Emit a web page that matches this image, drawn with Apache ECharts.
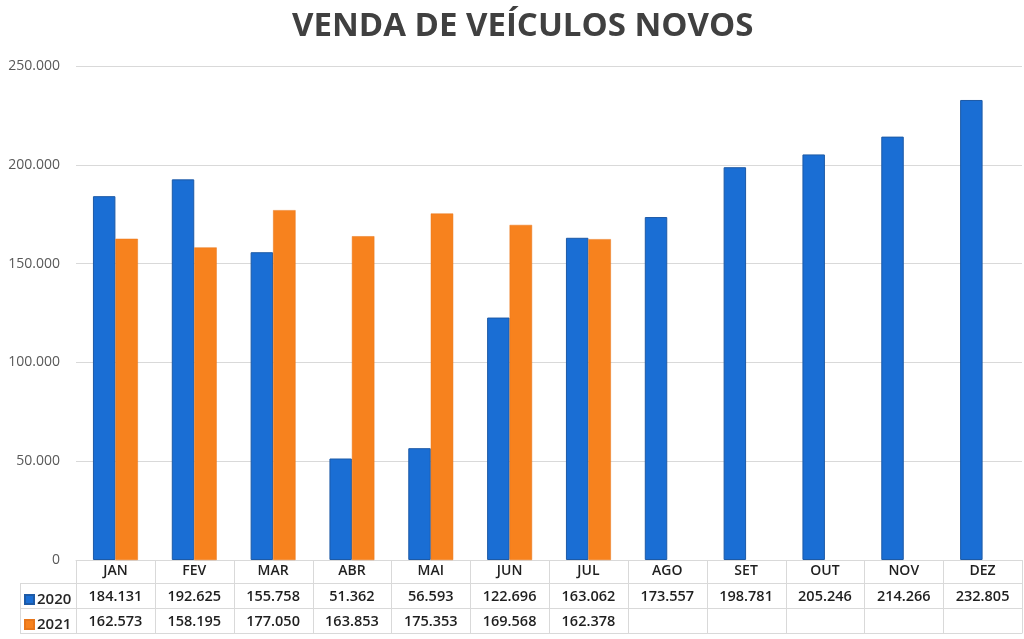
<!DOCTYPE html>
<html>
<head>
<meta charset="utf-8">
<script src="https://cdn.jsdelivr.net/npm/echarts@6/dist/echarts.min.js"></script>
<style>html,body{margin:0;padding:0;background:#fff}#c{width:1024px;height:639px}</style>
</head>
<body>
<div id="c"></div>
<script>
var months = ['JAN','FEV','MAR','ABR','MAI','JUN','JUL','AGO','SET','OUT','NOV','DEZ'];
var s2020 = [184131,192625,155758,51362,56593,122696,163062,173557,198781,205246,214266,232805];
var s2021 = [162573,158195,177050,163853,175353,169568,162378,null,null,null,null,null];
var yTicks = [0,50000,100000,150000,200000,250000];

function fmt(n){
  if(n===null||n===undefined) return ' ';
  return String(n).replace(/\B(?=(\d{3})+(?!\d))/g,'.');
}
var FONT = '"Open Sans", sans-serif';
var chart = echarts.init(document.getElementById('c'));
var gl = 76, gr = 2, gt = 66, gb = 79;
var W = 1024, H = 639;
var lineC = '#d9d9d9';
var legText = {fontFamily:FONT,fontSize:15,fontWeight:600,color:'#262626',padding:[0,0,0,-2]};
var graphics = [
  {type:'line',shape:{x1:20,y1:583.5,x2:W-gr,y2:583.5},style:{stroke:lineC,lineWidth:1}},
  {type:'line',shape:{x1:20,y1:608.5,x2:W-gr,y2:608.5},style:{stroke:lineC,lineWidth:1}},
  {type:'line',shape:{x1:20,y1:633.5,x2:W-gr,y2:633.5},style:{stroke:lineC,lineWidth:1}},
  {type:'line',shape:{x1:20.5,y1:583.5,x2:20.5,y2:633.5},style:{stroke:lineC,lineWidth:1}}
];
var cw = (W - gl - gr) / months.length;
for (var i = 0; i <= months.length; i++) {
  var x = Math.round(gl + i * cw) + 0.5;
  graphics.push({type:'line',shape:{x1:x,y1:H-gb,x2:x,y2:633.5},style:{stroke:lineC,lineWidth:1}});
}
chart.setOption({
  animation:false,
  title:{text:'VENDA DE VEÍCULOS NOVOS',left:287,top:5,
    textStyle:{fontFamily:FONT,fontSize:33,fontWeight:'bold',color:'#404040'}},
  legend:[
    {data:['2020'],left:19,top:587,itemWidth:9,itemHeight:9,icon:'rect',textStyle:legText},
    {data:['2021'],left:19,top:612,itemWidth:9,itemHeight:9,icon:'rect',textStyle:legText}
  ],
  grid:{left:gl,right:gr,top:gt,bottom:gb,containLabel:false},
  xAxis:{type:'category',data:months,
    axisLine:{lineStyle:{color:lineC}},
    axisTick:{show:false},
    axisLabel:{margin:-1,interval:0,
      formatter:function(v,i){
        return '{m|'+v+'}\n{v|'+fmt(s2020[i])+'}\n{v|'+fmt(s2021[i])+'}';
      },
      rich:{
        m:{fontFamily:FONT,fontSize:14,fontWeight:600,color:'#1f1f1f',lineHeight:25},
        v:{fontFamily:FONT,fontSize:14.5,fontWeight:600,color:'#1f1f1f',lineHeight:25}
      }}
  },
  yAxis:{type:'value',min:0,max:250000,interval:50000,
    axisLabel:{margin:16,fontFamily:FONT,fontSize:14,color:'#595959',formatter:function(v){return fmt(v);}},
    splitLine:{lineStyle:{color:lineC}},
    axisLine:{show:false},axisTick:{show:false}},
  graphic:graphics,
  series:[
    {name:'2020',type:'bar',data:s2020,barWidth:'28.5%',barGap:'0%',
      itemStyle:{color:'#1a6ed4',borderColor:'#1d5aa6',borderWidth:1}},
    {name:'2021',type:'bar',data:s2021,barWidth:'28.5%',
      itemStyle:{color:'#f7821e',borderColor:'#e8761a',borderWidth:0.5}}
  ]
});
</script>
</body>
</html>
